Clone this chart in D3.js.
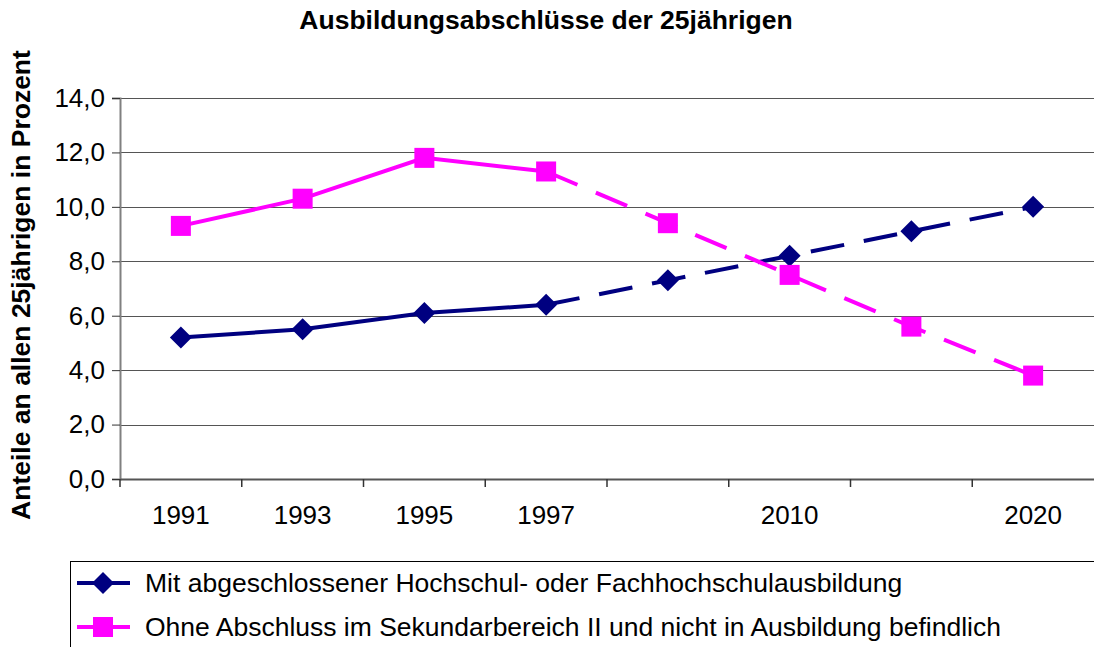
<!DOCTYPE html>
<html>
<head>
<meta charset="utf-8">
<script src="https://cdn.jsdelivr.net/npm/d3@7"></script>
<style>
  body { margin: 0; background: #fff; }
  svg { display: block; font-family: "Liberation Sans", Arial, sans-serif; }
</style>
</head>
<body>
<div id="chart"></div>
<script>
// Data
var categories = ["1991", "1993", "1995", "1997", "", "2010", "", "2020"];
var hochschul = [5.2, 5.5, 6.1, 6.4, 7.3, 8.2, 9.1, 10.0];
var ohneAbschluss = [9.3, 10.3, 11.8, 11.3, 9.4, 7.5, 5.6, 3.8];
var yTicks = [0, 2, 4, 6, 8, 10, 12, 14];
var seriesNames = [
  "Mit abgeschlossener Hochschul- oder Fachhochschulausbildung",
  "Ohne Abschluss im Sekundarbereich II und nicht in Ausbildung befindlich"
];
var lastSolid = 3; // dashed from 1997 on (projection)

// Layout
var W = 1094, H = 647;
var PLOT = { left: 120, right: 1094, top: 98, bottom: 479 };

var svg = d3.select("#chart").append("svg")
  .attr("width", W)
  .attr("height", H);

var x = d3.scaleBand()
  .domain(d3.range(categories.length))
  .range([PLOT.left, PLOT.right])
  .padding(0);

var y = d3.scaleLinear()
  .domain([0, 14])
  .range([PLOT.bottom, PLOT.top]);

// Title
svg.append("text")
  .attr("x", 546).attr("y", 29)
  .attr("text-anchor", "middle")
  .style("font-weight", "bold")
  .style("font-size", "26.5px")
  .text("Ausbildungsabschlüsse der 25jährigen");

// Y label
svg.append("text")
  .attr("transform", "translate(30," + 285 + ") rotate(-90)")
  .attr("text-anchor", "middle")
  .style("font-weight", "bold")
  .style("font-size", "26.5px")
  .text("Anteile an allen 25jährigen in Prozent");

// Gridlines
svg.append("g").selectAll("line")
  .data(yTicks.filter(function(d) { return d > 0; }))
  .enter().append("line")
  .attr("x1", PLOT.left).attr("x2", PLOT.right)
  .attr("y1", function(d) { return Math.round(y(d)) + 0.5; })
  .attr("y2", function(d) { return Math.round(y(d)) + 0.5; })
  .attr("stroke", "#555")
  .attr("stroke-width", 1.2);

// Y axis
var yAxis = svg.append("g")
  .attr("transform", "translate(" + PLOT.left + ",0)")
  .call(d3.axisLeft(y)
    .tickValues(yTicks)
    .tickSize(8)
    .tickPadding(7)
    .tickFormat(function(d) { return d3.format(".1f")(d).replace(".", ","); }));
yAxis.select(".domain").attr("stroke", "#808080").attr("stroke-width", 2);
yAxis.selectAll(".tick line").attr("stroke", "#333");
yAxis.selectAll("text")
  .style("font-size", "26px")
  .style("font-family", "Liberation Sans, Arial, sans-serif")
  .attr("fill", "#000");

// X axis: labels centered in bands, tick marks at band boundaries
var xAxis = svg.append("g")
  .attr("transform", "translate(0," + PLOT.bottom + ")")
  .call(d3.axisBottom(x)
    .tickSize(0)
    .tickSizeOuter(0)
    .tickPadding(27)
    .tickFormat(function(i) { return categories[i]; }));
xAxis.select(".domain").attr("stroke", "#555").attr("stroke-width", 2);
xAxis.selectAll("text")
  .style("font-size", "26px")
  .style("font-family", "Liberation Sans, Arial, sans-serif")
  .attr("fill", "#000");

xAxis.selectAll(".boundary")
  .data(d3.range(categories.length))
  .enter().append("line")
  .attr("class", "boundary")
  .attr("x1", function(i) { return x(i); })
  .attr("x2", function(i) { return x(i); })
  .attr("y1", 0).attr("y2", 8)
  .attr("stroke", "#333")
  .attr("stroke-width", 1.5);

// Series
var series = [
  { name: seriesNames[0], values: hochschul, color: "#000080", marker: "diamond" },
  { name: seriesNames[1], values: ohneAbschluss, color: "#FF00FF", marker: "square" }
];

var line = d3.line()
  .x(function(d) { return x(d.i) + x.bandwidth() / 2; })
  .y(function(d) { return y(d.v); });

function drawMarker(g, type, color) {
  if (type === "diamond") {
    g.append("path")
      .attr("d", "M0,-11L11,0L0,11L-11,0Z")
      .attr("fill", color);
  } else {
    g.append("rect")
      .attr("x", -10).attr("y", -10)
      .attr("width", 20).attr("height", 20)
      .attr("fill", color);
  }
}

series.forEach(function(s) {
  var pts = s.values.map(function(v, i) { return { i: i, v: v }; });
  svg.append("path")
    .datum(pts.slice(0, lastSolid + 1))
    .attr("d", line)
    .attr("fill", "none")
    .attr("stroke", s.color)
    .attr("stroke-width", 4);
  svg.append("path")
    .datum(pts.slice(lastSolid))
    .attr("d", line)
    .attr("fill", "none")
    .attr("stroke", s.color)
    .attr("stroke-width", 4)
    .attr("stroke-dasharray", "34,20");
});

series.forEach(function(s) {
  s.values.forEach(function(v, i) {
    var g = svg.append("g")
      .attr("transform", "translate(" + (x(i) + x.bandwidth() / 2) + "," + y(v) + ")");
    drawMarker(g, s.marker, s.color);
  });
});

// Legend
var legend = svg.append("g");
legend.append("rect")
  .attr("x", 70.5).attr("y", 561.5)
  .attr("width", 1100).attr("height", 120)
  .attr("fill", "#fff")
  .attr("stroke", "#000")
  .attr("stroke-width", 1);

series.forEach(function(s, k) {
  var ly = 583 + k * 44;
  var row = legend.append("g").attr("transform", "translate(0," + ly + ")");
  row.append("line")
    .attr("x1", 77).attr("x2", 130)
    .attr("y1", 0).attr("y2", 0)
    .attr("stroke", s.color)
    .attr("stroke-width", 4);
  var m = row.append("g").attr("transform", "translate(103,0)");
  drawMarker(m, s.marker, s.color);
  row.append("text")
    .attr("x", 145).attr("y", 9)
    .style("font-size", "26.5px")
    .text(s.name);
});
</script>
</body>
</html>
